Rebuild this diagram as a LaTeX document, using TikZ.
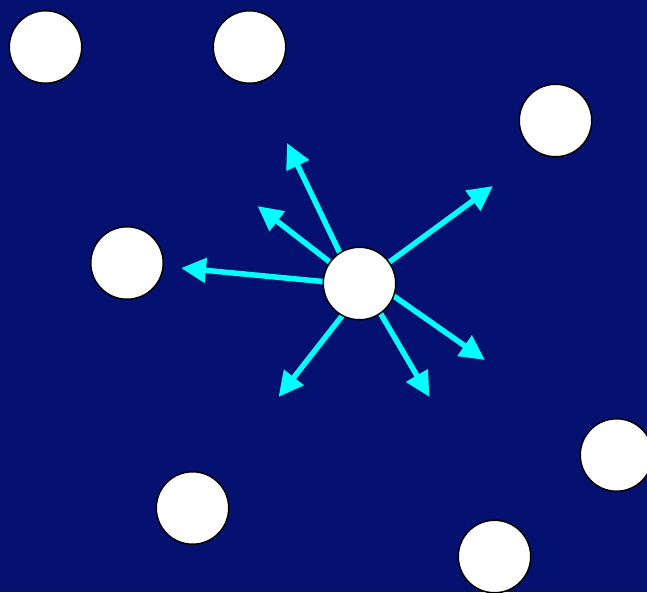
\documentclass[tikz,border=0pt]{standalone}
\usetikzlibrary{arrows.meta}

\definecolor{navy}{RGB}{5,17,112}
\definecolor{aqua}{RGB}{0,255,255}

\begin{document}
\begin{tikzpicture}[
    x=1pt, y=-1pt,
    dot/.style={circle, fill=white, draw=black, line width=1.5pt, minimum size=72.5pt, inner sep=0pt},
    push/.style={draw=aqua, line width=5.5pt, -{Triangle[length=25pt, width=24pt]}}
]

    % Background
    \fill[navy] (0,0) rectangle (647,592);
    \useasboundingbox (0,0) rectangle (647,592);

    % Arrow ends (inside the middle particle)
    \coordinate (s1) at (354.5,283.5);
    \coordinate (s2) at (359.5,285);
    \coordinate (s3) at (359.5,285);
    \coordinate (s4) at (359.5,284);
    \coordinate (s5) at (359.5,272);
    \coordinate (s6) at (363,283.5);
    \coordinate (s7) at (367.5,283.5);

    % Arrow tips
    \coordinate (t1) at (287,143);
    \coordinate (t2) at (257.5,206);
    \coordinate (t3) at (181,268);
    \coordinate (t4) at (493,186);
    \coordinate (t5) at (485,360);
    \coordinate (t6) at (429.5,397);
    \coordinate (t7) at (278.5,397);

    % Forces
    \foreach \i in {1,...,7} {
        \draw[push] (s\i) -- (t\i);
    }

    % Particles
    \node[dot] (p1) at (45.5,47) {};
    \node[dot] (p2) at (249.5,47) {};
    \node[dot] (p3) at (555.5,120.5) {};
    \node[dot] (p4) at (127,263) {};
    \node[dot] (p5) at (192.5,508) {};
    \node[dot] (p6) at (616.5,455) {};
    \node[dot] (p7) at (494.5,556.5) {};
    \node[dot] (mid) at (359.5,283.5) {};

\end{tikzpicture}
\end{document}
